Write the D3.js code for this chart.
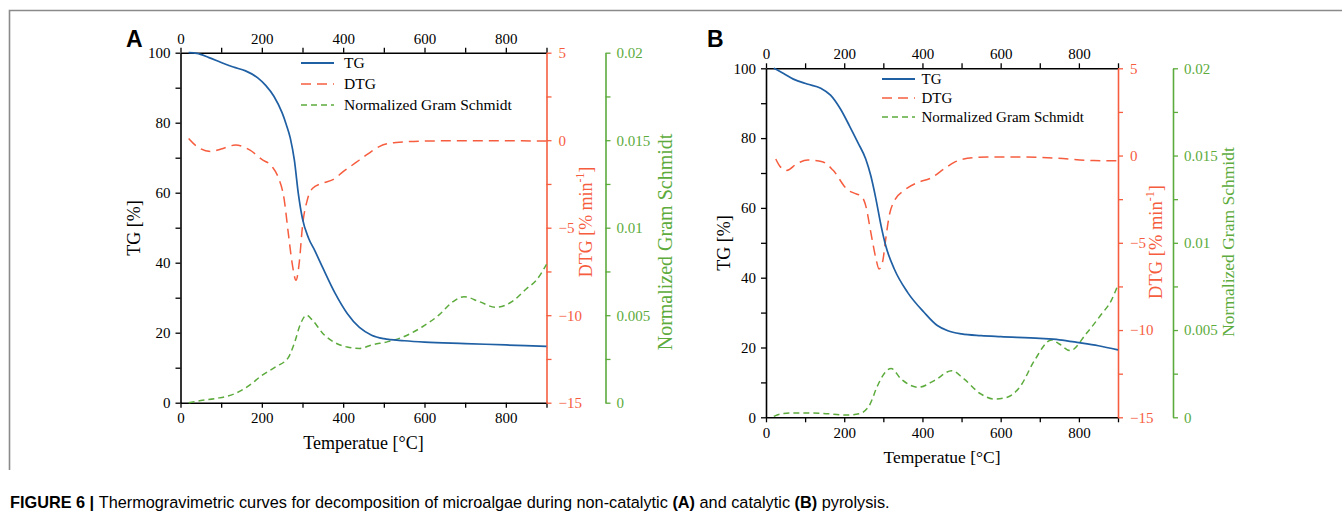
<!DOCTYPE html>
<html>
<head>
<meta charset="utf-8">
<script src="https://d3js.org/d3.v7.min.js"></script>
<style>
  body { margin: 0; background: #fff; }
  svg text { font-family: "Liberation Serif", "Times New Roman", serif; }
  .tick text { font-family: "Liberation Serif", serif; }
  .caption { font-family: "Liberation Sans", Arial, sans-serif; font-size: 16.3px; }
  .letter { font-family: "Liberation Sans", Arial, sans-serif; font-weight: bold; font-size: 23px; }
</style>
</head>
<body>
<svg id="fig" width="1342" height="529"></svg>
<script>
// ---- data ----
// panel A (non-catalytic)
var aTgT  = [20, 40, 70, 100, 130, 160, 190, 210, 230, 250, 260, 270, 280, 290, 300, 315, 330, 350, 380, 410, 440, 470, 500, 550, 600, 700, 800, 900];
var aTg   = [100, 99.8, 98.6, 97.2, 95.9, 94.8, 92.8, 90.6, 87.5, 82.8, 79.5, 75.6, 69.3, 59.5, 52.5, 47, 43.5, 38.5, 31.3, 25.5, 21.5, 19.3, 18.3, 17.7, 17.3, 16.9, 16.5, 16.1];
var aDtgT = [20, 40, 75, 100, 135, 170, 200, 225, 240, 255, 265, 275, 284, 292, 300, 312, 325, 350, 375, 400, 430, 460, 490, 530, 600, 700, 800, 900];
var aDtg  = [0.1, -0.35, -0.65, -0.5, -0.28, -0.55, -1.1, -1.5, -2.1, -3.4, -5.3, -7.1, -8.0, -7.0, -4.9, -3.4, -2.75, -2.45, -2.25, -1.8, -1.3, -0.8, -0.35, -0.13, -0.05, -0.03, -0.03, -0.05];
var aGsT  = [20, 50, 90, 135, 170, 200, 235, 265, 280, 295, 310, 325, 350, 380, 410, 440, 470, 510, 550, 595, 635, 670, 697, 735, 775, 815, 850, 875, 900];
var aGs   = [0, 0.00012, 0.00025, 0.00053, 0.001, 0.00156, 0.00206, 0.00258, 0.0034, 0.0045, 0.005, 0.0047, 0.00396, 0.00343, 0.00318, 0.0031, 0.0033, 0.00349, 0.00378, 0.00434, 0.005, 0.00577, 0.00606, 0.00577, 0.00545, 0.00577, 0.0065, 0.007, 0.0079];

// panel B (catalytic)
var bTgT  = [20, 45, 70, 105, 140, 165, 190, 213, 235, 255, 268, 281, 294, 306, 328, 362, 404, 438, 465, 500, 550, 600, 700, 750, 800, 850, 900];
var bTg   = [100, 98.5, 96.9, 95.5, 94.3, 92.3, 88.4, 83.6, 78.7, 74, 69.2, 62.6, 55, 49.2, 42.5, 35.8, 30.1, 26.3, 24.8, 23.9, 23.4, 23.1, 22.6, 22.2, 21.4, 20.5, 19.3];
var bDtgT = [25, 35, 53, 80, 107, 144, 171, 208, 231, 243, 255, 268, 281, 289, 298, 306, 315, 328, 353, 387, 421, 455, 481, 515, 566, 650, 736, 838, 900];
var bDtg  = [-0.2, -0.6, -0.85, -0.45, -0.26, -0.35, -0.83, -1.95, -2.2, -2.3, -2.87, -4.4, -5.9, -6.5, -6.1, -4.8, -3.45, -2.6, -2.0, -1.55, -1.3, -0.77, -0.39, -0.16, -0.08, -0.08, -0.14, -0.29, -0.3];
var bGsT  = [20, 40, 70, 140, 210, 238, 264, 285, 302, 320, 345, 390, 430, 475, 506, 549, 583, 617, 651, 685, 730, 750, 778, 819, 856, 883, 900];
var bGs   = [0.00005, 0.0002, 0.00025, 0.00023, 0.00013, 0.0002, 0.00067, 0.0018, 0.0025, 0.0028, 0.0022, 0.00172, 0.0021, 0.00267, 0.0022, 0.00134, 0.00105, 0.00115, 0.0018, 0.0032, 0.00443, 0.0042, 0.00382, 0.0048, 0.00586, 0.0067, 0.0076];

// ticks
var xMajor = [0, 200, 400, 600, 800], xMinor = [100, 300, 500, 700, 900];
var tgMajor = [0, 20, 40, 60, 80, 100], tgMinor = [10, 30, 50, 70, 90];
var dtgMajor = [-15, -10, -5, 0, 5], dtgMinor = [-12.5, -7.5, -2.5, 2.5];
var gsMajor = [0, 0.005, 0.01, 0.015, 0.02], gsMinor = [0.0025, 0.0075, 0.0125, 0.0175];
var legendNames = ["TG", "DTG", "Normalized Gram Schmidt"];

var cBlue = "#1f5fa3", cOrange = "#f65d3f", cGreen = "#5cab3c";

var svg = d3.select("#fig");

// outer frame
svg.append("path").attr("d", "M9.5,470 V10.5 H1342")
    .attr("fill", "none").attr("stroke", "#8a8a8a").attr("stroke-width", 1.6);

function zip(t, v) { return t.map(function (d, i) { return [d, v[i]]; }); }

function drawPanel(p) {
    var g = svg.append("g");
    var x = d3.scaleLinear().domain([0, 900]).range([p.left, p.right]);
    var yTg = d3.scaleLinear().domain([0, 100]).range([p.bottom, p.top]);
    var yDtg = d3.scaleLinear().domain([-15, 5]).range([p.bottom, p.top]);
    var yGs = d3.scaleLinear().domain([0, 0.02]).range([p.bottom, p.top]);

    function axis(gen, scale, major, minor, tr, color, pad) {
        var a = g.append("g").attr("transform", tr)
            .call(gen(scale).tickValues(major).tickSize(5).tickSizeOuter(0).tickPadding(pad).tickFormat(fmtNum));
        var m = g.append("g").attr("transform", tr)
            .call(gen(scale).tickValues(minor).tickSize(5).tickSizeOuter(0).tickFormat(""));
        m.select(".domain").remove();
        m.selectAll("line").attr("stroke", color).attr("stroke-width", 1.3);
        a.selectAll("text").attr("font-size", p.tickFs).attr("fill", color);
        a.selectAll("line").attr("stroke", color).attr("stroke-width", 1.3);
        a.select(".domain").attr("stroke", color).attr("stroke-width", 1.6);
        return a;
    }
    var fmtNum = function (d) { return d < 0 ? "\u2212" + Math.abs(d) : String(d); };

    axis(d3.axisBottom, x, xMajor, xMinor, "translate(0," + p.bottom + ")", "#000", 5);
    axis(d3.axisTop, x, xMajor, xMinor, "translate(0," + p.top + ")", "#000", 4);
    axis(d3.axisLeft, yTg, tgMajor, tgMinor, "translate(" + p.left + ",0)", "#000", 5);
    axis(d3.axisRight, yDtg, dtgMajor, dtgMinor, "translate(" + p.right + ",0)", cOrange, 7);
    axis(d3.axisRight, yGs, gsMajor, gsMinor, "translate(" + p.gsAxis + ",0)", cGreen, 6);

    // curves
    var lineTg = d3.line().x(function (d) { return x(d[0]); }).y(function (d) { return yTg(d[1]); }).curve(d3.curveMonotoneX);
    var lineDtg = d3.line().x(function (d) { return x(d[0]); }).y(function (d) { return yDtg(d[1]); }).curve(d3.curveMonotoneX);
    var lineGs = d3.line().x(function (d) { return x(d[0]); }).y(function (d) { return yGs(d[1]); }).curve(d3.curveMonotoneX);

    g.append("path").datum(zip(p.gsT, p.gs)).attr("d", lineGs)
        .attr("fill", "none").attr("stroke", cGreen).attr("stroke-width", 1.5).attr("stroke-dasharray", "6,4");
    g.append("path").datum(zip(p.dtgT, p.dtg)).attr("d", lineDtg)
        .attr("fill", "none").attr("stroke", cOrange).attr("stroke-width", 1.5).attr("stroke-dasharray", "10,6");
    g.append("path").datum(zip(p.tgT, p.tg)).attr("d", lineTg)
        .attr("fill", "none").attr("stroke", cBlue).attr("stroke-width", 1.7);

    // legend
    var dashes = [null, "10,6", "6,4"], cols = [cBlue, cOrange, cGreen];
    legendNames.forEach(function (n, i) {
        var ly = p.legY + i * p.legDy;
        g.append("line").attr("x1", p.legX).attr("x2", p.legX + 33).attr("y1", ly).attr("y2", ly)
            .attr("stroke", cols[i]).attr("stroke-width", i === 0 ? 2 : 1.6)
            .attr("stroke-dasharray", dashes[i]);
        g.append("text").attr("x", p.legTx).attr("y", ly + 5).attr("font-size", p.legFs).text(n);
    });

    // axis titles
    g.append("text").attr("transform", "translate(" + p.tgLab[0] + "," + p.tgLab[1] + ") rotate(-90)")
        .attr("text-anchor", "middle").attr("font-size", 18).text("TG [%]");
    g.append("text").attr("x", (p.left + p.right) / 2).attr("y", p.xLabY)
        .attr("text-anchor", "middle").attr("font-size", p.xLabFs).text("Temperatue [\u00B0C]");
    var dt = g.append("text").attr("transform", "translate(" + p.dtgLab[0] + "," + p.dtgLab[1] + ") rotate(-90)")
        .attr("text-anchor", "middle").attr("font-size", p.dtgFs).attr("fill", cOrange);
    dt.append("tspan").text("DTG [% min");
    dt.append("tspan").attr("dy", -p.dtgFs * 0.4).attr("font-size", p.dtgFs * 0.65).text("-1");
    dt.append("tspan").attr("dy", p.dtgFs * 0.4).text("]");
    g.append("text").attr("transform", "translate(" + p.gsLab[0] + "," + p.gsLab[1] + ") rotate(-90)")
        .attr("text-anchor", "middle").attr("font-size", p.gsFs).attr("fill", cGreen).text("Normalized Gram Schmidt");

    g.append("text").attr("class", "letter").attr("x", p.letterX).attr("y", 47).text(p.letter);
}

drawPanel({
    letter: "A", letterX: 126,
    left: 180.5, right: 546.5, top: 52.7, bottom: 402.7, gsAxis: 605.5,
    tgT: aTgT, tg: aTg, dtgT: aDtgT, dtg: aDtg, gsT: aGsT, gs: aGs,
    tickFs: 15, legX: 301, legTx: 344, legY: 63, legDy: 21, legFs: 15.5,
    tgLab: [140, 228], xLabY: 449, xLabFs: 18,
    dtgLab: [591.5, 222], dtgFs: 18, gsLab: [672, 242], gsFs: 20
});
drawPanel({
    letter: "B", letterX: 707,
    left: 766, right: 1118, top: 68.3, bottom: 417.3, gsAxis: 1173,
    tgT: bTgT, tg: bTg, dtgT: bDtgT, dtg: bDtg, gsT: bGsT, gs: bGs,
    tickFs: 15, legX: 882, legTx: 921.5, legY: 79, legDy: 19, legFs: 15,
    tgLab: [730, 243], xLabY: 463, xLabFs: 17.5,
    dtgLab: [1161.5, 242], dtgFs: 18.5, gsLab: [1234, 242], gsFs: 17.5
});

// caption
var cap = svg.append("text").attr("class", "caption").attr("x", 10).attr("y", 508);
cap.append("tspan").attr("font-weight", "bold").text("FIGURE 6 | ");
cap.append("tspan").text("Thermogravimetric curves for decomposition of microalgae during non-catalytic ");
cap.append("tspan").attr("font-weight", "bold").text("(A)");
cap.append("tspan").text(" and catalytic ");
cap.append("tspan").attr("font-weight", "bold").text("(B)");
cap.append("tspan").text(" pyrolysis.");
</script>
</body>
</html>
